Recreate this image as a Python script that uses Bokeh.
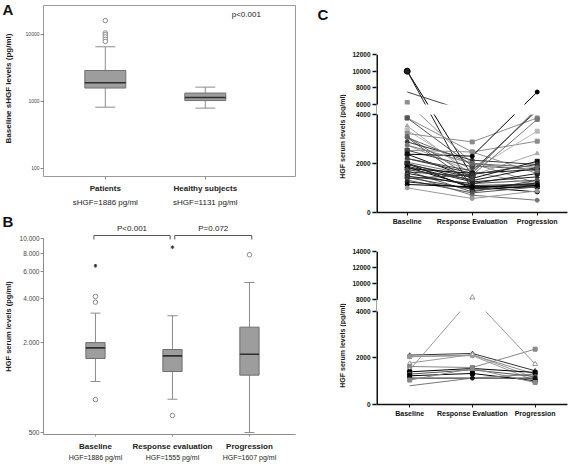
import numpy as np
from bokeh.plotting import figure
from bokeh.models import (ColumnDataSource, FixedTicker, LinearAxis, Label,
                          CustomJSTransform, Range1d, BoxAnnotation, Span)
from bokeh.transform import transform
from bokeh.layouts import row, column
from bokeh.embed import file_html
from bokeh.resources import INLINE
from bokeh.core.properties import value

FONT = "Liberation Sans"
NAN = np.nan

# ---------------- Panel A data ----------------
a_groups = ["Patients", "Healthy subjects"]
a_means = ["sHGF=1886 pg/ml", "sHGF=1131 pg/ml"]
a_q1 = [1570, 1020]
a_median = [1886, 1131]
a_q3 = [2870, 1320]
a_whisk_lo = [813, 787]
a_whisk_hi = [6490, 1620]
a_outliers = [16000, 10400, 9800, 9100, 8400, 7800]  # Patients
a_yticks = [100, 1000, 10000]
a_ylabel = "Baseline sHGF levels (pg/ml)"
a_pvalue = "p<0.001"

# ---------------- Panel B data ----------------
b_groups = ["Baseline", "Response evaluation", "Progression"]
b_means = ["HGF=1886 pg/ml", "HGF=1555 pg/ml", "HGF=1607 pg/ml"]
b_q1 = [1573, 1286, 1216]
b_median = [1854, 1637, 1680]
b_q3 = [2010, 1807, 2553]
b_whisk_lo = [1102, 838, 501]
b_whisk_hi = [3170, 3043, 5090]
b_circ_group = [1, 1, 1, 2, 3]
b_circ_val = [834, 3757, 4100, 652, 7810]
b_star_group = [1, 2]
b_star_val = [6590, 8785]
b_yticks = [500, 2000, 4000, 6000, 8000, 10000]
b_ytick_labels = ["500", "2.000", "4.000", "6.000", "8.000", "10.000"]
b_ylabel = "HGF serum levels (pg/ml)"
b_pvalues = ["P<0.001", "P=0.072"]

# ---------------- Panel C data ----------------
c_times = ["Baseline", "Response Evaluation", "Progression"]
c_ylabel = "HGF serum levels (pg/ml)"

# upper chart (all patients)
c1_base = [10000, 10000, 7500, 6250, 3860, 3860, 3535, 3360, 3224, 3100,
           3060, 2880, 2750, 2540, 2540, 2380, 2380, 2200, 2200, 2050,
           2000, 2000, 1950, 1890, 1850, 1795, 1750, 1700, 1657, 1600,
           1520, 1480, 1430, 1380, 1320, 1250, 1143, 1005, 2750, 3060]
c1_resp = [1500, 900, 4300, 2000, 2470, 1900, 1520, 1700, 2880, 1400,
           1180, 2135, 1657, 2470, 1860, 2300, 1390, 1600, 1700, 1520,
           980, 1300, 1450, 1250, 1050, 1600, 1350, 840, 1480, 1100,
           705, 1180, 950, 1550, 800, 1000, 1050, 570, 2000, 2000]
c1_prog = [NAN, 1100, NAN, 1200, 2910, 1750, 2410, 3320, 3860, NAN,
           1320, 1960, 1155, 1590, NAN, 7500, 2090, 5200, 4800, 3800,
           1045, 1840, NAN, 1455, 840, 1755, NAN, 1320, NAN, 1155,
           500, 1590, NAN, 1960, 1045, 1200, 1100, 880, 1700, 1840]
c1_ticks = [0, 2000, 4000, 6000, 8000, 10000, 12000]
c1_color = ["#000000", "#222222", "#444444", "#8c8c8c", "#8c8c8c", "#555555",
            "#a8a8a8", "#b8b8b8", "#8c8c8c", "#666666", "#555555", "#333333",
            "#a0a0a0", "#8c8c8c", "#444444", "#000000", "#111111", "#333333",
            "#444444", "#777777", "#000000", "#222222", "#333333", "#222222",
            "#000000", "#111111", "#444444", "#555555", "#333333", "#222222",
            "#777777", "#222222", "#444444", "#333333", "#555555", "#222222",
            "#000000", "#999999", "#777777", "#666666"]
c1_marker = ["circle", "circle", "circle", "square", "square", "square",
             "triangle", "square", "square", "circle", "circle", "circle",
             "circle", "square", "square", "circle", "square", "circle",
             "triangle", "square", "square", "square", "circle", "triangle",
             "circle", "square", "circle", "triangle", "triangle", "circle",
             "circle", "square", "circle", "circle", "triangle", "circle",
             "circle", "circle", "circle", "circle"]
c1_size = [6, 4, 0, 4, 4, 4, 4, 4, 4, 4, 4, 4, 4, 4, 4, 4, 4, 4, 4, 4,
           4, 4, 4, 4, 4, 4, 4, 4, 4, 4, 4, 4, 4, 4, 4, 4, 4, 4, 4, 4]

# lower chart
c2_base = [2125, 2065, 2050, 1780, 1635, 1490, 1405, 1307, 1234, 1135, 1050, 805]
c2_resp = [2195, 2125, 2100, 2150, 1590, 8300, 1550, 1490, 1335, 1135, 1550, 1135]
c2_prog = [1450, 1307, 1020, 1135, 2380, 1740, 1378, 1205, 1020, 1135, 946, 1307]
c2_ticks = [0, 2000, 4000, 8000, 10000, 12000, 14000]
c2_color = ["#333333", "#888888", "#999999", "#999999", "#888888", "#999999",
            "#000000", "#555555", "#000000", "#111111", "#888888", "#777777"]
c2_marker = ["triangle", "square", "circle", "triangle", "square", "triangle",
             "square", "circle", "square", "circle", "square", "circle"]
c2_size = [4, 4, 4, 4, 4, 5, 4, 4, 4, 4, 4, 0]

# ---------------- styles ----------------
BOX_FILL = "#9d9d9d"
BOX_LINE = "#6f6f6f"
WHISK = "#8c8c8c"
MED = "#2f2f2f"


def base_fig(**kw):
    p = figure(output_backend="svg", toolbar_location=None, title=None, **kw)
    p.grid.visible = False
    p.background_fill_color = "white"
    p.border_fill_color = "white"
    return p


def strip_fig(width, height):
    p = base_fig(width=width, height=height, x_range=Range1d(0, width),
                 y_range=Range1d(height, 0), min_border_left=0,
                 min_border_right=0, min_border_top=0, min_border_bottom=0,
                 x_axis_location=None, y_axis_location=None)
    p.outline_line_color = None
    return p


def font_axis(ax, size, bold, color="#333333"):
    ax.major_label_text_font = FONT
    ax.major_label_text_font_size = size
    ax.major_label_text_font_style = "bold" if bold else "normal"
    ax.major_label_text_color = color
    ax.minor_tick_line_color = None
    ax.axis_label = None
    ax.axis_label_standoff = 0


def draw_boxes(p, pos, q1, med, q3, lo, hi, bw, cw):
    s = ColumnDataSource(dict(
        x=pos, q1=q1, med=med, q3=q3, lo=lo, hi=hi,
        bx0=[v - bw / 2 for v in pos], bx1=[v + bw / 2 for v in pos],
        cx0=[v - cw / 2 for v in pos], cx1=[v + cw / 2 for v in pos]))
    kw = dict(source=s, line_color=WHISK, line_width=1)
    p.segment(x0="x", y0="q3", x1="x", y1="hi", **kw)
    p.segment(x0="x", y0="q1", x1="x", y1="lo", **kw)
    p.segment(x0="cx0", y0="hi", x1="cx1", y1="hi", **kw)
    p.segment(x0="cx0", y0="lo", x1="cx1", y1="lo", **kw)
    p.vbar(x="x", width=bw, bottom="q1", top="q3", source=s,
           fill_color=BOX_FILL, line_color=BOX_LINE, line_width=1)
    p.segment(x0="bx0", y0="med", x1="bx1", y1="med", source=s,
              line_color=MED, line_width=1.6)


def letter(p, txt, x, y):
    p.text(x=[x], y=[y], text=[txt], text_font=value(FONT), text_font_size="15px",
           text_font_style="bold", text_baseline="top", text_align="left",
           text_color="#111111")


def vlabel(p, txt, x, y, size):
    p.text(x=[x], y=[y], text=[txt], angle=np.pi / 2, text_font=value(FONT),
           text_font_size=size, text_font_style="bold", text_baseline="middle",
           text_align="center", text_color="#1a1a1a")


# ================= left strip (letters + y titles) =================
sl = strip_fig(14, 472)
letter(sl, "A", 2, 0)
letter(sl, "B", 2, 212)
vlabel(sl, a_ylabel, 7.5, 88, "8px")
vlabel(sl, b_ylabel, 7.5, 326, "7.5px")

# ================= Panel A =================
pa = base_fig(width=286, height=218, x_range=Range1d(0.382, 2.902),
              y_range=Range1d(75, 26800), y_axis_type="log",
              min_border_left=27, min_border_right=2, min_border_top=5,
              min_border_bottom=42)
pa.outline_line_color = "#9a9a9a"
draw_boxes(pa, [1, 2], a_q1, a_median, a_q3, a_whisk_lo, a_whisk_hi, 0.41, 0.2)
pa.scatter(x=[1] * len(a_outliers), y=a_outliers, marker="circle", size=4.5,
           line_color="#8a8a8a", fill_color="white", line_width=1)
pa.add_layout(Label(x=2.41, y=19700, text=a_pvalue, text_font=FONT,
                    text_font_size="8px", text_align="center",
                    text_baseline="middle", text_color="#222222"))
ya = pa.yaxis[0]
ya.ticker = FixedTicker(ticks=a_yticks)
ya.major_label_overrides = {t: str(t) for t in a_yticks}
font_axis(ya, "5px", False, "#444444")
ya.axis_line_color = None
ya.major_tick_out = 3
ya.major_tick_in = 0
ya.major_tick_line_color = "#888888"
ya.major_label_standoff = 1

xa = pa.xaxis[0]
xa.ticker = FixedTicker(ticks=[1, 2])
xa.major_label_overrides = {i + 1: g for i, g in enumerate(a_groups)}
font_axis(xa, "8px", True, "#222222")
xa.axis_line_color = None
xa.major_tick_out = 3
xa.major_tick_in = 0
xa.major_tick_line_color = "#888888"
xa.major_label_standoff = 4
xa2 = LinearAxis(ticker=FixedTicker(ticks=[1, 2]),
                 major_label_overrides={i + 1: m for i, m in enumerate(a_means)})
font_axis(xa2, "8px", False, "#222222")
xa2.axis_line_color = None
xa2.major_tick_line_color = None
xa2.major_label_standoff = -4
pa.add_layout(xa2, "below")

# ================= Panel B =================
pb = base_fig(width=286, height=254, x_range=Range1d(0.325, 3.598),
              y_range=Range1d(486, 12860), y_axis_type="log",
              min_border_left=29, min_border_right=5, min_border_top=4,
              min_border_bottom=38)
pb.outline_line_color = None
draw_boxes(pb, [1, 2, 3], b_q1, b_median, b_q3, b_whisk_lo, b_whisk_hi, 0.25, 0.13)
pb.scatter(x=b_circ_group, y=b_circ_val, marker="circle", size=4.5,
           line_color="#8a8a8a", fill_color="white", line_width=1)
pb.scatter(x=b_star_group, y=b_star_val, marker="asterisk", size=3.5,
           line_color="#333333", line_width=1)
pb.multi_line(xs=[[0.98, 0.98, 1.97, 1.97], [2.03, 2.03, 3.03, 3.03]],
              ys=[[9890, 10520, 10520, 9890], [9890, 10520, 10520, 9890]],
              line_color="#555555", line_width=1)
for xp, txt in zip([1.475, 2.53], b_pvalues):
    pb.add_layout(Label(x=xp, y=11720, text=txt, text_font=FONT,
                        text_font_size="8px", text_align="center",
                        text_baseline="middle", text_color="#222222"))
yb = pb.yaxis[0]
yb.ticker = FixedTicker(ticks=b_yticks)
yb.major_label_overrides = dict(zip(b_yticks, b_ytick_labels))
font_axis(yb, "6.5px", False, "#444444")
yb.bounds = (486, 10000)
yb.axis_line_color = "#8c8c8c"
yb.major_tick_line_color = "#8c8c8c"
yb.major_tick_out = 3
yb.major_tick_in = 0
yb.major_label_standoff = 1

xb = pb.xaxis[0]
xb.ticker = FixedTicker(ticks=[1, 2, 3])
xb.major_label_overrides = {i + 1: g for i, g in enumerate(b_groups)}
font_axis(xb, "8px", True, "#222222")
xb.axis_line_color = "#8c8c8c"
xb.major_tick_line_color = "#8c8c8c"
xb.major_tick_out = 2
xb.major_tick_in = 0
xb.major_label_standoff = 5
xb2 = LinearAxis(ticker=FixedTicker(ticks=[1, 2, 3]),
                 major_label_overrides={i + 1: m for i, m in enumerate(b_means)})
font_axis(xb2, "7px", False, "#222222")
xb2.axis_line_color = None
xb2.major_tick_line_color = None
xb2.major_label_standoff = -6
pb.add_layout(xb2, "below")

# ================= Panel C =================
BREAK_FUNC = """
if (x <= lo) return x;
if (x >= hi) return lo + gap + (x - hi) * k;
return lo + (x - lo) / (hi - lo) * gap;
"""
BREAK_VFUNC = """
const r = new Float64Array(xs.length);
for (let i = 0; i < xs.length; i++) {
  const v = xs[i];
  if (v <= lo) r[i] = v;
  else if (v >= hi) r[i] = lo + gap + (v - hi) * k;
  else r[i] = lo + (v - lo) / (hi - lo) * gap;
}
return r;
"""


def brk(v, lo, hi, gap, k):
    if v <= lo:
        return v
    if v >= hi:
        return round(lo + gap + (v - hi) * k, 6)
    return round(lo + (v - lo) / (hi - lo) * gap, 6)


def c_panel(width, height, mbl, mbt, mbb, xr, bp, ticks, base, resp, prog,
            colors, markers, sizes):
    lo, hi, gap, k = bp
    top = brk(ticks[-1], *bp)
    p = base_fig(width=width, height=height, x_range=Range1d(*xr),
                 y_range=Range1d(0, top), min_border_left=mbl,
                 min_border_right=1, min_border_top=mbt, min_border_bottom=mbb)
    p.outline_line_color = None
    t = CustomJSTransform(args=dict(lo=lo, hi=hi, gap=gap, k=k),
                          func=BREAK_FUNC, v_func=BREAK_VFUNC)
    for b, r, g, c in zip(base, resp, prog, colors):
        s = ColumnDataSource(dict(x=np.array([1.0, 2.0, 3.0]),
                                  y=np.array([b, r, g], dtype=float)))
        p.line(x="x", y=transform("y", t), source=s, line_color=c, line_width=1)
    px, py, pm, pc, pf, ps = [], [], [], [], [], []
    for b, r, g, c, m, sz in zip(base, resp, prog, colors, markers, sizes):
        for xi, v in zip([1.0, 2.0, 3.0], [b, r, g]):
            if np.isnan(v):
                continue
            px.append(xi)
            py.append(float(v))
            pm.append(m)
            pc.append(c)
            ps.append(sz)
            pf.append("white" if (m == "triangle" and c in ("#333333", "#999999")) else c)
    pts = ColumnDataSource(dict(x=px, y=py, marker=pm, color=pc, fill=pf, size=ps))
    p.scatter(x="x", y=transform("y", t), marker="marker", size="size",
              line_color="color", fill_color="fill", source=pts)
    # axis line drawn at the frame edge, interrupted by the break
    p.add_layout(Span(location=xr[0], dimension="height", line_color="#111111",
                      line_width=3))
    p.add_layout(BoxAnnotation(bottom=brk(lo, *bp), top=brk(hi, *bp),
                               fill_color="white", fill_alpha=1.0,
                               line_color=None, level="overlay"))
    yc = p.yaxis[0]
    tpos = [brk(v, *bp) for v in ticks]
    yc.ticker = FixedTicker(ticks=tpos)
    yc.major_label_overrides = {tp: str(v) for tp, v in zip(tpos, ticks)}
    font_axis(yc, "6.5px", True, "#111111")
    yc.axis_line_color = None
    yc.major_tick_line_color = "#111111"
    yc.major_tick_line_width = 1.5
    yc.major_tick_out = 4
    yc.major_tick_in = 0
    yc.major_label_standoff = 2
    xc = p.xaxis[0]
    xc.ticker = FixedTicker(ticks=[1, 2, 3])
    xc.major_label_overrides = {i + 1: g for i, g in enumerate(c_times)}
    font_axis(xc, "7px", True, "#111111")
    xc.axis_line_color = "#111111"
    xc.axis_line_width = 1.5
    xc.major_tick_line_color = "#111111"
    xc.major_tick_out = 3
    xc.major_tick_in = 0
    xc.major_label_standoff = 2
    return p


# right strip: letter C and the two y titles of panel C
sr = strip_fig(46, 472)
letter(sr, "C", 17, 5)
vlabel(sr, c_ylabel, 42, 136, "7px")
vlabel(sr, c_ylabel, 42, 345, "7px")

pc1 = c_panel(222, 230, 30, 54, 18, (0.5277, 3.466), (4000, 6000, 408, 0.34),
              c1_ticks, c1_base, c1_resp, c1_prog, c1_color, c1_marker, c1_size)
pc2 = c_panel(222, 242, 27, 21, 68, (0.471, 3.516), (4000, 8000, 503, 0.346),
              c2_ticks, c2_base, c2_resp, c2_prog, c2_color, c2_marker, c2_size)

layout = row(sl, column(pa, pb), sr, column(pc1, pc2))
open("out.html", "w").write(file_html(layout, INLINE))
